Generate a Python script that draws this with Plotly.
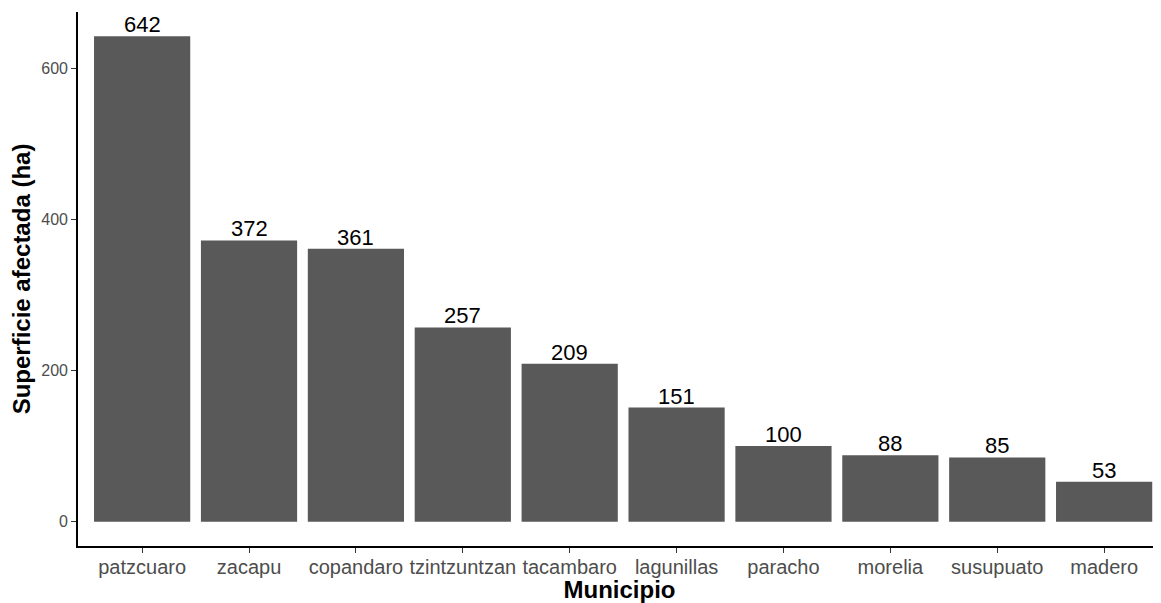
import plotly.graph_objects as go

municipios = ["patzcuaro", "zacapu", "copandaro", "tzintzuntzan", "tacambaro",
              "lagunillas", "paracho", "morelia", "susupuato", "madero"]
superficie = [642, 372, 361, 257, 209, 151, 100, 88, 85, 53]
y_ticks = [0, 200, 400, 600]

FONT = "Liberation Sans, Arial, sans-serif"
xpos = list(range(len(municipios)))

fig = go.Figure(go.Bar(
    x=xpos,
    y=superficie,
    width=0.9,
    marker=dict(color="#595959", line=dict(width=0)),
    hoverinfo="x+y",
))

for xi, v in zip(xpos, superficie):
    fig.add_annotation(
        x=xi, y=v, xref="x", yref="y",
        text=str(v), showarrow=False,
        yanchor="bottom", yshift=-3,
        font=dict(family=FONT, size=22, color="black"),
    )

# page body has an 8px default margin; compensate in size/margins
fig.update_layout(
    width=1153, height=595,
    margin=dict(l=70, r=0, t=4, b=57),
    plot_bgcolor="white", paper_bgcolor="white",
    font=dict(family=FONT),
    showlegend=False,
    bargap=0.1,
)
fig.update_xaxes(
    range=[-0.6, 9.532],
    tickmode="array",
    tickvals=xpos,
    ticktext=municipios,
    ticks="outside", ticklen=5, tickcolor="#333333", tickwidth=1.2,
    showline=True, linecolor="black", linewidth=1.6,
    showgrid=False, zeroline=False,
    tickfont=dict(size=20, color="#4D4D4D"),
    ticklabelstandoff=-3,
    title=dict(text="<b>Municipio</b>", font=dict(size=24, color="black"), standoff=0),
)
fig.update_yaxes(
    range=[-32.1, 674.1],
    tickmode="array",
    tickvals=y_ticks,
    ticks="outside", ticklen=5, tickcolor="#333333", tickwidth=1.2,
    showline=True, linecolor="black", linewidth=1.6,
    showgrid=False, zeroline=False,
    tickfont=dict(size=16, color="#4D4D4D"),
    title=dict(text="<b>Superficie afectada (ha)</b>", font=dict(size=24, color="black"), standoff=4),
)

fig.write_html("out.html")
